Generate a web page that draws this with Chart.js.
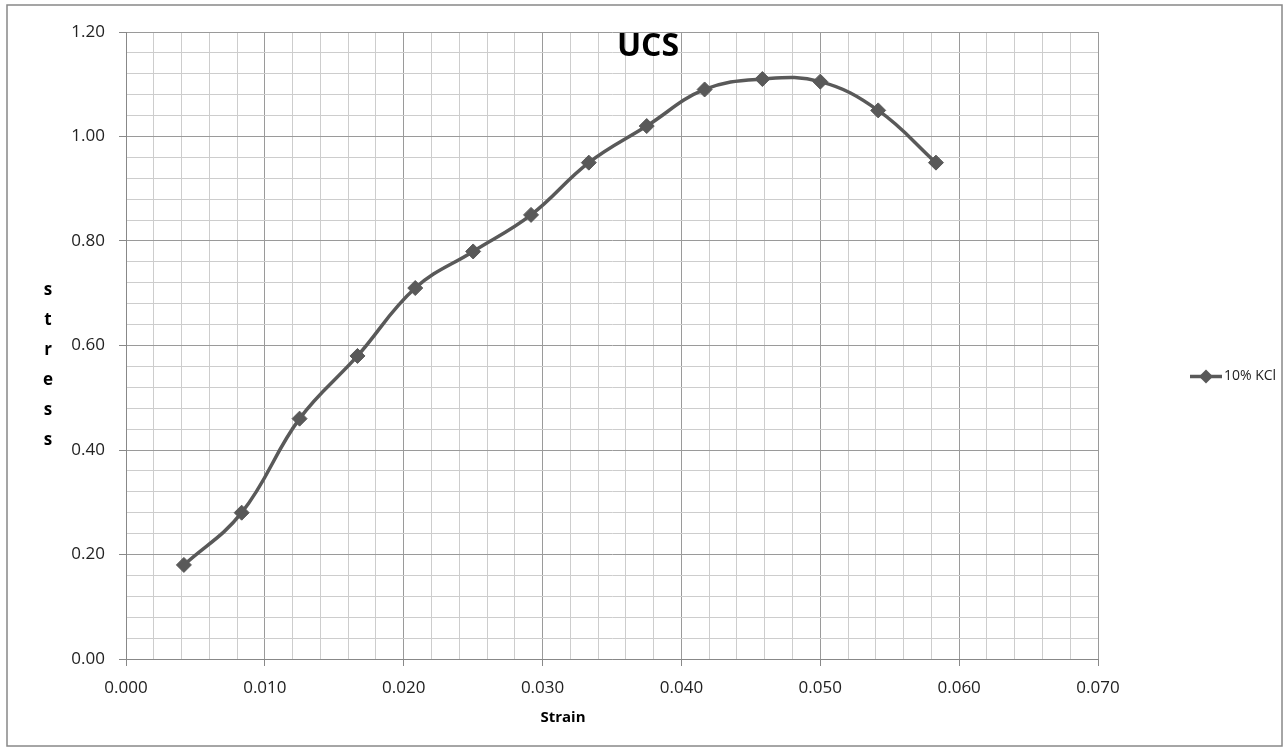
<!DOCTYPE html>
<html>
<head>
<meta charset="utf-8">
<script src="https://cdn.jsdelivr.net/npm/chart.js@4"></script>
<style>
  html, body { margin: 0; padding: 0; background: #fff; }
  #wrap { position: relative; width: 1288px; height: 751px; }
</style>
</head>
<body>
<div id="wrap"><canvas id="chart" width="1288" height="751"></canvas></div>
<script>
// data
const seriesName = "10% KCl";
const strain = [0.00417, 0.00833, 0.0125, 0.01667, 0.02083, 0.025, 0.02917,
                0.03333, 0.0375, 0.04167, 0.04583, 0.05, 0.05417, 0.05833];
const stress = [0.18, 0.28, 0.46, 0.58, 0.71, 0.78, 0.85,
                0.95, 1.02, 1.09, 1.11, 1.105, 1.05, 0.95];
const xTickLabels = ["0.000", "0.010", "0.020", "0.030", "0.040", "0.050", "0.060", "0.070"];
const yTickLabels = ["0.00", "0.20", "0.40", "0.60", "0.80", "1.00", "1.20"];
const chartTitle = "UCS";
const xTitle = "Strain";
const yTitle = "stress";

const FONT = "'Open Sans', sans-serif";
const LINE = "#595959";

Chart.defaults.font.family = FONT;
Chart.defaults.color = "#222";

// minor steps: 5 per labelled step
const xMinor = (v) => Math.round(v / 0.002);
const yMinor = (v) => Math.round(v / 0.04);
const isMajorX = (t) => t && xMinor(t.value) % 5 === 0;
const isMajorY = (t) => t && yMinor(t.value) % 5 === 0;

const decor = {
    id: "decor",
    beforeDraw(chart) {
        const ctx = chart.ctx;
        ctx.save();
        ctx.fillStyle = "#fff";
        ctx.fillRect(0, 0, chart.width, chart.height);
        ctx.strokeStyle = "#888";
        ctx.lineWidth = 1.5;
        ctx.strokeRect(7, 5, chart.width - 13, chart.height - 10);
        ctx.restore();
    },
    afterDraw(chart) {
        const ctx = chart.ctx;
        ctx.save();
        ctx.fillStyle = "#000";
        ctx.textAlign = "center";
        ctx.textBaseline = "middle";

        ctx.font = "bold 32px " + FONT;
        ctx.fillText(chartTitle, chart.width / 2 + 4, 47);

        ctx.font = "bold 15px " + FONT;
        ctx.fillText(xTitle, 563, 718);

        ctx.font = "bold 17px " + FONT;
        yTitle.split("").forEach((ch, i) => ctx.fillText(ch, 48, 290 + i * 30));

        // legend
        const cy = chart.height / 2 + 1;
        ctx.strokeStyle = LINE;
        ctx.lineWidth = 3.5;
        ctx.beginPath();
        ctx.moveTo(1190, cy);
        ctx.lineTo(1222, cy);
        ctx.stroke();
        ctx.fillStyle = LINE;
        ctx.beginPath();
        ctx.moveTo(1206, cy - 7);
        ctx.lineTo(1213, cy);
        ctx.lineTo(1206, cy + 7);
        ctx.lineTo(1199, cy);
        ctx.closePath();
        ctx.fill();
        ctx.fillStyle = "#222";
        ctx.textAlign = "left";
        ctx.font = "14px " + FONT;
        ctx.fillText(seriesName, 1224, cy);
        ctx.restore();
    }
};

new Chart(document.getElementById("chart").getContext("2d"), {
    type: "scatter",
    data: {
        datasets: [{
            label: seriesName,
            data: strain.map((x, i) => ({ x: x, y: stress[i] })),
            showLine: true,
            tension: 0.4,
            borderColor: LINE,
            borderWidth: 3.5,
            pointStyle: "rectRot",
            pointRadius: 7.5,
            pointHoverRadius: 7.5,
            pointBackgroundColor: LINE,
            pointBorderColor: LINE,
            pointBorderWidth: 1,
            clip: false
        }]
    },
    options: {
        responsive: false,
        devicePixelRatio: 1,
        animation: false,
        layout: { padding: { left: 0, right: 190, top: 32, bottom: 0 } },
        plugins: {
            legend: { display: false },
            title: { display: false },
            tooltip: { enabled: false }
        },
        scales: {
            x: {
                type: "linear",
                min: 0,
                max: 0.07,
                afterFit: (scale) => { scale.height = 92; },
                ticks: {
                    stepSize: 0.002,
                    maxTicksLimit: 100,
                    autoSkip: false,
                    maxRotation: 0,
                    padding: 12,
                    font: { size: 17 },
                    color: "#222",
                    callback: (v) => xMinor(v) % 5 === 0 ? xTickLabels[xMinor(v) / 5] : ""
                },
                grid: {
                    color: (c) => isMajorX(c.tick) ? "#9a9a9a" : "#cdcdcd",
                    tickColor: (c) => isMajorX(c.tick) ? "#888" : "rgba(0,0,0,0)",
                    tickLength: 7,
                    lineWidth: 1
                },
                border: { color: "#888", width: 1 }
            },
            y: {
                type: "linear",
                min: 0,
                max: 1.2,
                afterFit: (scale) => { scale.width = 126; },
                ticks: {
                    stepSize: 0.04,
                    maxTicksLimit: 100,
                    autoSkip: false,
                    padding: 14,
                    font: { size: 17 },
                    color: "#222",
                    callback: (v) => yMinor(v) % 5 === 0 ? yTickLabels[yMinor(v) / 5] : ""
                },
                grid: {
                    color: (c) => isMajorY(c.tick) ? "#9a9a9a" : "#cdcdcd",
                    tickColor: (c) => isMajorY(c.tick) ? "#888" : "rgba(0,0,0,0)",
                    tickLength: 7,
                    lineWidth: 1
                },
                border: { color: "#888", width: 1 }
            }
        }
    },
    plugins: [decor]
});
</script>
</body>
</html>
